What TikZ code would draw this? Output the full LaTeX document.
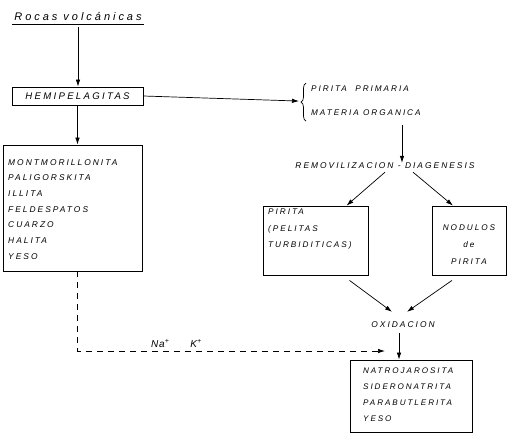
\documentclass[tikz,border=0pt]{standalone}
\usepackage{fontspec}
\newfontfamily\lab{Liberation Sans}[LetterSpace=24]
\newfontfamily\labw{Liberation Sans}[LetterSpace=27]
\newfontfamily\labn{Liberation Sans}[LetterSpace=8]
\usetikzlibrary{arrows.meta,decorations.pathreplacing}
\begin{document}
\begin{tikzpicture}[x=1pt,y=-1pt,
  arr/.style={-{Latex[length=7pt,width=4.5pt]}, line width=0.7pt},
  box/.style={draw, line width=0.8pt, inner sep=0pt},
  txt/.style={font=\lab\itshape\fontsize{8.4}{15.7}\selectfont, inner sep=0pt, align=left},
]
\useasboundingbox (0,0) rectangle (509,434);

% title
\node[font=\labw\itshape\fontsize{11}{13}\selectfont, inner xsep=2pt, inner ysep=0pt, anchor=base] (rocas) at (78,20) {Rocas volcánicas};
\draw[line width=0.7pt] ([yshift=-4pt]rocas.base west) -- ([yshift=-4pt]rocas.base east);

% boxes
\node[box, minimum width=131pt, minimum height=18pt, font=\lab\itshape\fontsize{9.6}{11}\selectfont] (hemi) at (77.5,96) {HEMIPELAGITAS};
\node[box, minimum width=139pt, minimum height=126pt] (min) at (72.5,208) {};
\node[txt, anchor=north west] (mintxt) at (8,159) {MONTMORILLONITA\\PALIGORSKITA\\ILLITA\\FELDESPATOS\\CUARZO\\HALITA\\YESO};

\node[txt, anchor=north west, font=\lab\itshape\fontsize{8.2}{24}\selectfont] (src) at (311,86) {PIRITA\ \ PRIMARIA\\MATERIA ORGANICA};
\draw[decorate, decoration={brace, amplitude=5pt}, line width=0.7pt]
  ([shift={(-5pt,-5pt)}]src.south west) -- ([shift={(-5pt,3pt)}]src.north west);
\coordinate (bt) at ([xshift=-12pt]src.west);

\node[txt] (remov) at (385,166) {REMOVILIZACION - DIAGENESIS};

\node[box, minimum width=105pt, minimum height=69pt] (pir) at (315.5,240.5) {};
\node[txt, anchor=north west, font=\lab\itshape\fontsize{8.2}{16.5}\selectfont] (pirtxt) at (268,209) {PIRITA\\(PELITAS\\TURBIDITICAS)};

\node[box, minimum width=74pt, minimum height=69pt] (nod) at (469,240.5) {};
\node[txt, align=center, font=\lab\itshape\fontsize{8.2}{17}\selectfont] (nodtxt) at (469,245) {NODULOS\\de\\PIRITA};

\node[txt] (ox) at (403,325) {OXIDACION};

\node[box, minimum width=122pt, minimum height=72pt] (fin) at (411,396) {};
\node[txt, anchor=north west, font=\lab\itshape\fontsize{8.1}{16}\selectfont] (fintxt) at (363,368) {NATROJAROSITA\\SIDERONATRITA\\PARABUTLERITA\\YESO};

\node[font=\labn\itshape\fontsize{10}{12}\selectfont, inner sep=0pt, anchor=base west] (ions) at (151,347) {Na\textsuperscript{+}\hspace{21pt}K\textsuperscript{+}};

% connectors
\draw[arr] ([yshift=-7pt]rocas.base) -- (rocas.base |- hemi.north);
\draw[arr] (hemi.south) -- (hemi.south |- min.north);
\draw[arr] (hemi.east) -- (bt);
\coordinate (a1) at (402,125);
\draw[arr] (a1) -- (a1 |- remov.north);
\draw[arr] ([yshift=-3pt]remov.south) -- ([xshift=31pt]pir.north);
\draw[arr] ([xshift=28pt,yshift=-3pt]remov.south) -- ([xshift=-16pt]nod.north);
\draw[arr] ([xshift=34pt,yshift=-5pt]pir.south) -- ([xshift=-11pt,yshift=10pt]ox.north);
\draw[arr] ([xshift=-17pt,yshift=-5pt]nod.south) -- ([xshift=4pt,yshift=10pt]ox.north);
\coordinate (a2) at (399,333);
\draw[arr] (a2) -- (a2 |- fin.north);
\coordinate (d0) at (hemi.south |- min.south);
\coordinate (dend) at (385,351);
\draw[arr, dash pattern=on 6pt off 5pt] (d0) -- (d0 |- dend) -- (dend);
\end{tikzpicture}
\end{document}
